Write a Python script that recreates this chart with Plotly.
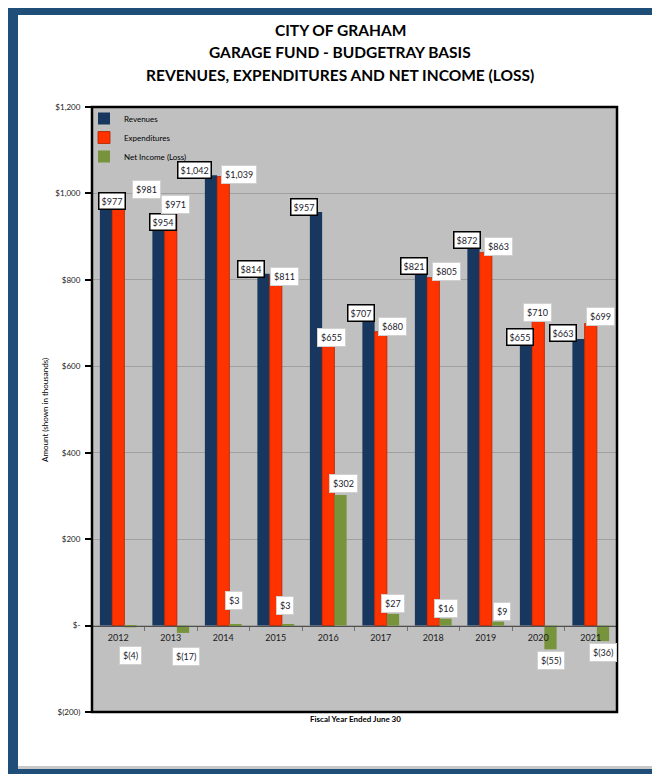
import plotly.graph_objects as go

years = ["2012", "2013", "2014", "2015", "2016", "2017", "2018", "2019", "2020", "2021"]
revenues = [977, 954, 1042, 814, 957, 707, 821, 872, 655, 663]
expenditures = [981, 971, 1039, 811, 655, 680, 805, 863, 710, 699]
net_income = [-4, -17, 3, 3, 302, 27, 16, 9, -55, -36]

y_ticks = [-200, 0, 200, 400, 600, 800, 1000, 1200]
y_tick_labels = ["$(200)", "$-", "$200", "$400", "$600", "$800", "$1,000", "$1,200"]

title_lines = ["CITY OF GRAHAM", "GARAGE FUND - BUDGETRAY BASIS",
               "REVENUES, EXPENDITURES AND NET INCOME (LOSS)"]

# label offsets (pixels) relative to category centre / bar end
rev_dx = [-6, -8, -29, -25, -24, -20, -19, -19, -18, -28]
rev_dy = [2, -9, 5, 5, 5, 7, 5, 9, 6, 6]
exp_dx = [28, 5, 16, 9, 3, 12, 13, 13, -1, 10]
exp_dy = [12, 1, 2, -1, 5, 5, 6, 6, 6, 7]
net_dx = [12, 15, 11, 9, 15, 12, 13, 16, 13, 12]
net_dy = [-28, -24, 24, 19, 12, 10, 10, 10, -11, -11]

FONT = "Lato"
W, H = 660, 774
OFF = 8  # page body margin in the browser
# target plot area (screen pixels): x 92..617, y 107..712
PL, PR, PT, PB = 92 - OFF, 617 - OFF, 107 - OFF, 712 - OFF
ML, MR, MT, MB = PL, W - PR, PT, H - PB
PW, PH = PR - PL, PB - PT


def px(x):
    return (x - OFF - PL) / PW


def py(y):
    return (PB - (y - OFF)) / PH


def money(v):
    s = "{:,}".format(abs(v))
    return "$(" + s + ")" if v < 0 else "$" + s


fig = go.Figure()
fig.add_trace(go.Bar(name="Revenues", x=years, y=revenues, marker_color="#17375E",
                     marker_line_width=0))
fig.add_trace(go.Bar(name="Expenditures", x=years, y=expenditures, marker_color="#FF3300",
                     marker_line_color="#B02000", marker_line_width=0.8))
fig.add_trace(go.Bar(name="Net Income (Loss)", x=years, y=net_income, marker_color="#77933C",
                     marker_line_width=0))

ann = []
lab_font = dict(family=FONT, size=9, color="#1a1a2a")
for i, yr in enumerate(years):
    # category index used as x (category axis)
    ann.append(dict(x=i, y=revenues[i], text=money(revenues[i]), xshift=rev_dx[i], yshift=rev_dy[i],
                    showarrow=False, bgcolor="white", bordercolor="black", borderwidth=1.5,
                    borderpad=2, font=lab_font))
    ann.append(dict(x=i, y=expenditures[i], text=money(expenditures[i]), xshift=exp_dx[i], yshift=exp_dy[i],
                    showarrow=False, bgcolor="white", bordercolor="#d0d0d0", borderwidth=1,
                    borderpad=3, font=lab_font))
    ann.append(dict(x=i, y=net_income[i], text=money(net_income[i]), xshift=net_dx[i], yshift=net_dy[i],
                    showarrow=False, bgcolor="white", bordercolor="#d0d0d0", borderwidth=1,
                    borderpad=3, font=lab_font))

title_y = [30, 52, 75]
for t, yy in zip(title_lines, title_y):
    ann.append(dict(text="<b>" + t + "</b>", xref="paper", yref="paper", x=px(340), y=py(yy),
                    xanchor="center", yanchor="middle",
                    showarrow=False, font=dict(family=FONT, size=15.5, color="black")))

ann.append(dict(text="Amount (shown in thousands)", xref="paper", yref="paper", x=px(45), y=py(410),
                xanchor="center", yanchor="middle",
                textangle=-90, showarrow=False, font=dict(family=FONT, size=8, color="black")))
ann.append(dict(text="<b>Fiscal Year Ended June 30</b>", xref="paper", yref="paper", x=px(355), y=py(719),
                xanchor="center", yanchor="middle",
                showarrow=False, font=dict(family=FONT, size=8, color="black")))

shapes = [
    # plot frame
    dict(type="rect", xref="paper", yref="paper", x0=0, x1=1, y0=0, y1=1,
         line=dict(color="black", width=2.5), layer="above"),
    # page frame
    dict(type="rect", xref="paper", yref="paper", x0=px(8), x1=px(18), y0=py(6), y1=py(790),
         fillcolor="#1F4E79", line_width=0),
    dict(type="rect", xref="paper", yref="paper", x0=px(8), x1=px(680), y0=py(6), y1=py(15),
         fillcolor="#1F4E79", line_width=0),
    dict(type="rect", xref="paper", yref="paper", x0=px(8), x1=px(680), y0=py(769), y1=py(790),
         fillcolor="#1F4E79", line_width=0),
    dict(type="rect", xref="paper", yref="paper", x0=px(18), x1=px(680), y0=py(766), y1=py(769),
         fillcolor="#C8C8C8", line_width=0),
]

fig.update_layout(
    width=W, height=H,
    margin=dict(l=ML, r=MR, t=MT, b=MB),
    paper_bgcolor="white", plot_bgcolor="#C0C0C0",
    barmode="group", bargap=0.3, bargroupgap=0,
    showlegend=True,
    legend=dict(x=px(84), y=py(104), xanchor="left", yanchor="top", bgcolor="rgba(0,0,0,0)",
                font=dict(family=FONT, size=8, color="black"), itemwidth=30,
                tracegroupgap=0),
    annotations=ann, shapes=shapes,
    font=dict(family=FONT),
)
fig.update_xaxes(type="category", range=[-0.5, len(years) - 0.5], autorange=False,
                 categoryorder="array", categoryarray=years,
                 anchor="free", position=200 / 1400, showline=True,
                 linecolor="#505050", linewidth=1,
                 ticks="outside", tickson="boundaries", ticklen=4, tickcolor="#707070",
                 ticklabelstandoff=4,
                 tickfont=dict(family=FONT, size=9, color="#1a1a1a"), showgrid=False)
fig.update_yaxes(range=[-200, 1200], tickvals=y_ticks, ticktext=y_tick_labels,
                 ticks="outside", ticklen=6, tickcolor="black", tickwidth=1.5,
                 ticklabelstandoff=3,
                 tickfont=dict(family=FONT, size=8, color="#1a1a1a"),
                 showgrid=True, gridcolor="#A0A0A0", gridwidth=1, zeroline=False, showline=False)

fig.write_html("out.html")
